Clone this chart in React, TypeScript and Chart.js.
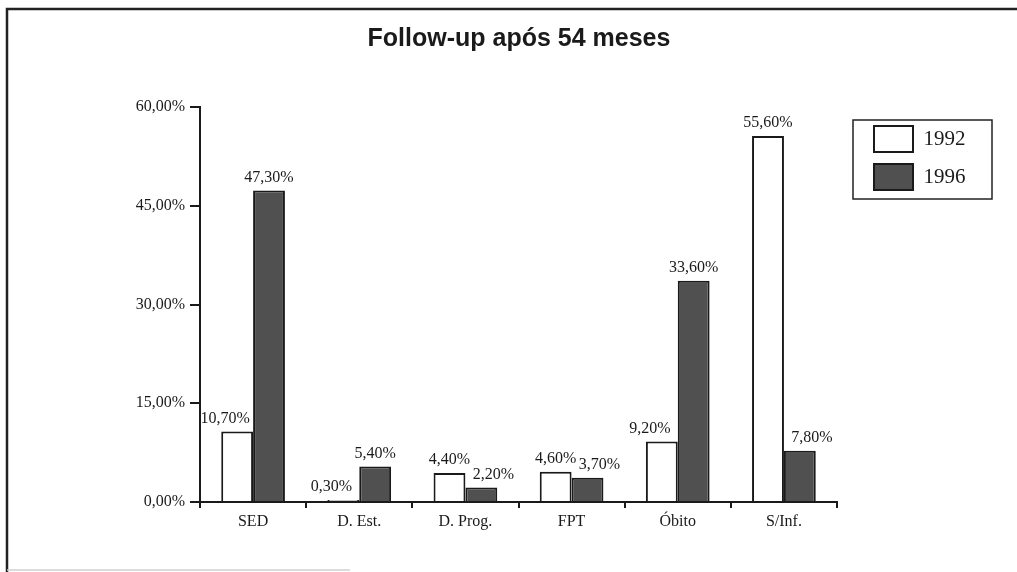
import React, { useEffect, useRef } from "react";
import { Chart, registerables } from "chart.js";

Chart.register(...registerables);

const categories = ["SED", "D. Est.", "D. Prog.", "FPT", "Óbito", "S/Inf."];
const values1992 = [10.7, 0.3, 4.4, 4.6, 9.2, 55.6];
const values1996 = [47.3, 5.4, 2.2, 3.7, 33.6, 7.8];
const seriesLabels = ["1992", "1996"];
const yTicks = [0, 15, 30, 45, 60];
const titleText = "Follow-up após 54 meses";

const SERIF = "'Liberation Serif', 'Times New Roman', serif";
const fmt = (v: number) => v.toFixed(2).replace(".", ",") + "%";

const framePlugin = {
  id: "frame",
  beforeDraw(chart: any) {
    const ctx = chart.ctx;
    ctx.save();
    ctx.fillStyle = "#ffffff";
    ctx.fillRect(0, 0, chart.width, chart.height);
    ctx.strokeStyle = "#222222";
    ctx.lineWidth = 2.5;
    ctx.beginPath();
    ctx.moveTo(7, chart.height);
    ctx.lineTo(7, 9);
    ctx.lineTo(chart.width, 9);
    ctx.stroke();
    ctx.strokeStyle = "#d0d0d0";
    ctx.lineWidth = 1.5;
    ctx.beginPath();
    ctx.moveTo(7, 570);
    ctx.lineTo(350, 570);
    ctx.stroke();
    ctx.restore();
  },
};

const legendPlugin = {
  id: "legendPlace",
  beforeLayout(chart: any) {
    const lg = chart.legend;
    if (lg && !lg.__patched) {
      const orig = lg.fit.bind(lg);
      lg.fit = function () {
        orig();
        this.width = 180;
      };
      lg.__patched = true;
    }
  },
  afterLayout(chart: any) {
    const lg = chart.legend;
    if (!lg) return;
    const w = lg.width;
    const h = lg.height;
    lg.left = 862;
    lg.top = 114;
    lg.right = lg.left + w;
    lg.bottom = lg.top + h;
  },
  afterDraw(chart: any) {
    const lg = chart.legend;
    if (!lg) return;
    const ctx = chart.ctx;
    ctx.save();
    ctx.strokeStyle = "#222222";
    ctx.lineWidth = 1.5;
    ctx.strokeRect(lg.left - 9, lg.top + 6, 139, 79);
    ctx.restore();
  },
};

// Value labels above bars; the label of the shorter bar in a pair is nudged
// away from its taller neighbour, as in the original.
const valueLabelPlugin = {
  id: "valueLabels",
  afterDatasetsDraw(chart: any) {
    const ctx = chart.ctx;
    ctx.save();
    ctx.font = "16px " + SERIF;
    ctx.fillStyle = "#1a1a1a";
    ctx.textAlign = "center";
    ctx.textBaseline = "middle";
    const sets = chart.data.datasets;
    sets.forEach((ds: any, i: number) => {
      const meta = chart.getDatasetMeta(i);
      const other = sets[1 - i];
      meta.data.forEach((el: any, j: number) => {
        const v = ds.data[j];
        const ov = other ? other.data[j] : 0;
        let dx = 0;
        if (ov > v) dx = i === 0 ? -12 : 12;
        ctx.fillText(fmt(v), el.x + dx, el.y - 13);
      });
    });
    ctx.restore();
  },
};

export default function App() {
  const ref = useRef<HTMLCanvasElement | null>(null);

  useEffect(() => {
    document.body.style.margin = "0";
    const canvas = ref.current;
    if (!canvas) return;
    const chart = new Chart(canvas, {
      type: "bar",
      data: {
        labels: categories,
        datasets: [
          {
            label: seriesLabels[0],
            data: values1992,
            backgroundColor: "#ffffff",
            borderColor: "#1a1a1a",
            borderWidth: 2,
            categoryPercentage: 0.6,
            barPercentage: 1.0,
          },
          {
            label: seriesLabels[1],
            data: values1996,
            backgroundColor: "#505050",
            borderColor: "#1a1a1a",
            borderWidth: 2,
            categoryPercentage: 0.6,
            barPercentage: 1.0,
          },
        ],
      },
      options: {
        responsive: false,
        animation: false,
        layout: { padding: { left: 21, right: 0, top: 0, bottom: 0 } },
        plugins: {
          title: {
            display: true,
            text: titleText,
            color: "#1a1a1a",
            font: {
              family: "'Liberation Sans Narrow', 'Arial Narrow', 'Liberation Sans', Arial, sans-serif",
              size: 25,
              weight: "bold",
            },
            padding: { top: 24, bottom: 53 },
          },
          legend: {
            display: true,
            position: "right",
            align: "start",
            labels: {
              boxWidth: 39,
              boxHeight: 26,
              padding: 12,
              color: "#1a1a1a",
              font: { family: SERIF, size: 21 },
            },
          },
          tooltip: { enabled: false },
        },
        scales: {
          x: {
            afterFit: (s: any) => {
              s.height = 70;
            },
            border: { display: true, color: "#1a1a1a", width: 2 },
            grid: {
              display: true,
              drawOnChartArea: false,
              drawTicks: true,
              tickLength: 6,
              color: "#1a1a1a",
              lineWidth: 2,
            },
            ticks: {
              color: "#1a1a1a",
              padding: 4,
              font: { family: SERIF, size: 16 },
            },
          },
          y: {
            min: 0,
            max: 60,
            afterFit: (s: any) => {
              s.width = 179;
            },
            afterBuildTicks: (s: any) => {
              s.ticks = yTicks.map((v) => ({ value: v }));
            },
            border: { display: true, color: "#1a1a1a", width: 2 },
            grid: {
              display: true,
              drawOnChartArea: false,
              drawTicks: true,
              tickLength: 10,
              color: "#1a1a1a",
              lineWidth: 2,
            },
            ticks: {
              color: "#1a1a1a",
              padding: 5,
              font: { family: SERIF, size: 16 },
              callback: (v: any) => fmt(Number(v)),
            },
          },
        },
      },
      plugins: [framePlugin, legendPlugin, valueLabelPlugin],
    });
    return () => chart.destroy();
  }, []);

  return (
    <div style={{ width: 1017, height: 572 }}>
      <canvas ref={ref} width={1017} height={572} style={{ display: "block" }} />
    </div>
  );
}
